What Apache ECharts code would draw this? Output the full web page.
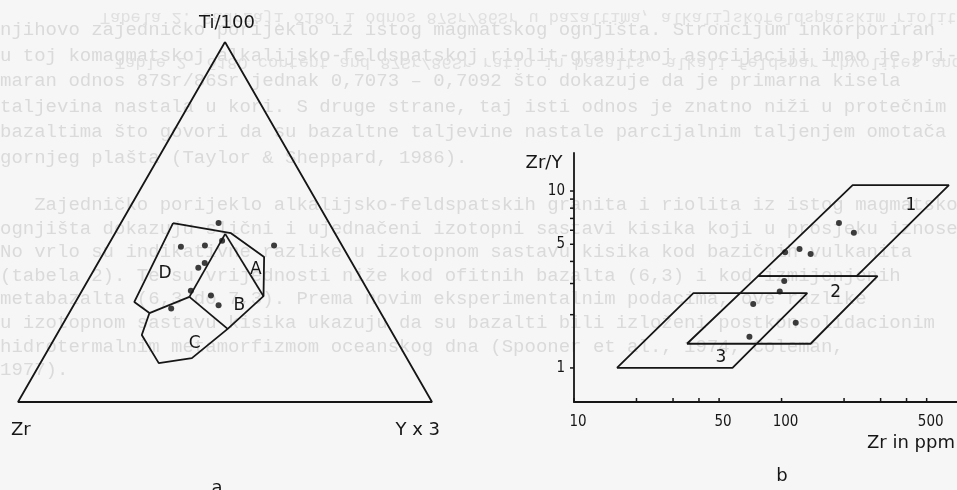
<!DOCTYPE html>
<html>
<head>
<meta charset="utf-8">
<script src="https://cdn.jsdelivr.net/npm/echarts@6/dist/echarts.min.js"></script>
<style>
	html, body { margin: 0; padding: 0; background: #f6f6f6; }
	#main { width: 957px; height: 490px; }
</style>
</head>
<body>
<div id="main"></div>
<script>
// a: Ti/100 - Zr - Y*3, sastav u % [Ti, Zr, Y]
var terCorners = [[100, 0, 0], [0, 100, 0], [0, 0, 100]];
var fieldOutline = [[49.7, 37.7, 12.6], [46.9, 25.1, 28.0], [40.3, 20.4, 39.3], [29.4, 26.0, 44.6], [20.3, 39.2, 40.5],
	[12.2, 51.9, 35.9], [10.8, 60.6, 28.6], [18.6, 60.8, 20.6], [24.7, 55.9, 19.4], [27.8, 58.0, 14.2]];
var junctionTop = [46.7, 26.6, 26.7];
var junctionMid = [29.2, 44.0, 26.8];
var dividers = [
	[junctionTop, junctionMid],
	[junctionTop, [29.4, 26.0, 44.6]],
	[junctionMid, [24.7, 55.9, 19.4]],
	[junctionMid, [20.3, 39.2, 40.5]]
];
var terSamples = [[49.7, 26.7, 23.6], [43.1, 39.1, 17.8], [43.5, 33.1, 23.4], [44.8, 28.3, 26.9], [43.5, 16.4, 40.1],
	[38.6, 35.6, 25.8], [37.3, 37.8, 24.9], [30.9, 42.8, 26.3], [26.0, 50.0, 24.0], [29.6, 38.6, 31.8], [26.9, 38.1, 35.0]];
var fieldNames = ['D', 'A', 'B', 'C'];
var fieldNamePos = [[35.8, 46.6, 17.6], [36.9, 24.1, 39.0], [26.9, 33.1, 40.0], [16.3, 49.2, 34.5]];

// b: Zr/Y - Zr (ppm)
var field1 = [[77, 3.3], [220, 10.8], [640, 10.8], [230, 3.3]];
var field2 = [[35, 1.37], [77, 3.3], [290, 3.3], [138, 1.37]];
var field3 = [[16.1, 1.0], [37.6, 2.65], [133, 2.65], [58, 1.0]];
var fieldNo = ['1', '2', '3'];
var fieldNoPos = [[420, 8.3], [182, 2.65], [51, 1.14]];
var zrPpm = [189, 223, 104, 122, 138, 103, 98, 73, 117, 70];
var zrY = [6.6, 5.8, 4.5, 4.7, 4.4, 3.1, 2.7, 2.3, 1.8, 1.5];
var xTicks = [10, 20, 30, 40, 50, 100, 200, 300, 400, 500];
var xLabels = [10, 50, 100, 500];
var yTicks = [1, 2, 3, 4, 5, 6, 7, 8, 9, 10];
var yLabels = [1, 5, 10];

var bgLines = [
	'njihovo zajedničko porijeklo iz istog magmatskog ognjišta. Stroncijum inkorporiran',
	'u toj komagmatskoj alkalijsko-feldspatskoj riolit-granitnoj asocijaciji imao je pri-',
	'maran odnos 87Sr/86Sr jednak 0,7073 – 0,7092 što dokazuje da je primarna kisela',
	'taljevina nastala u kori. S druge strane, taj isti odnos je znatno niži u protečnim',
	'bazaltima što govori da su bazaltne taljevine nastale parcijalnim taljenjem omotača',
	'gornjeg plašta (Taylor & Sheppard, 1986).'
];
var bgLines2 = [
	'   Zajedničko porijeklo alkalijsko-feldspatskih granita i riolita iz istog magmatskog',
	'ognjišta dokazuju slični i ujednačeni izotopni sastavi kisika koji u prosjeku iznose 9,',
	'No vrlo su indikativne razlike u izotopnom sastavu kisika kod bazičnih vulkanita',
	'(tabela 2). Te su vrijednosti niže kod ofitnih bazalta (6,3) i kod izmijenjenih',
	'metabazalta (6,3 do 7,3). Prema novim eksperimentalnim podacima, ove razlike',
	'u izotopnom sastavu kisika ukazuju da su bazalti bili izloženi postkonsolidacionim',
	'hidrotermalnim metamorfizmom oceanskog dna (Spooner et al., 1974, Coleman,',
	'1977).'
];

var LINE = '#161616';
var X_MIN = 10, X_MAX = 700, Y_MIN = 0.642, Y_MAX = 16.4;

function tern(p) {
	var ti = p[0], y = p[2];
	return [y + ti / 2, ti * Math.sqrt(3) / 2];
}

function closed(arr, fn) {
	var out = arr.map(fn);
	out.push(out[0]);
	return out;
}

function ident(p) { return p; }

function lineSeries(data, gi) {
	return {
		type: 'line', xAxisIndex: gi, yAxisIndex: gi, data: data,
		symbol: 'none', silent: true, animation: false,
		lineStyle: { color: LINE, width: 1.8 }
	};
}

var series = [];
series.push(lineSeries(closed(terCorners, tern), 0));
series.push(lineSeries(closed(fieldOutline, tern), 0));
for (var i = 0; i < dividers.length; i++) {
	series.push(lineSeries(dividers[i].map(tern), 0));
}
series.push({
	type: 'scatter', xAxisIndex: 0, yAxisIndex: 0, symbolSize: 6, animation: false,
	itemStyle: { color: '#0e0e0e' },
	data: terSamples.map(tern)
});
series.push({
	type: 'custom', xAxisIndex: 0, yAxisIndex: 0, animation: false,
	data: fieldNamePos.map(function (p, k) { return tern(p).concat([k]); }),
	renderItem: function (params, api) {
		var c = api.coord([api.value(0), api.value(1)]);
		return {
			type: 'text', x: c[0], y: c[1],
			style: { text: fieldNames[api.value(2)], fill: LINE, font: '17px "DejaVu Sans"', align: 'center', verticalAlign: 'middle' }
		};
	}
});

// b
series.push(lineSeries(closed(field1, ident), 1));
series.push(lineSeries(closed(field2, ident), 1));
series.push(lineSeries(closed(field3, ident), 1));
series.push({
	type: 'scatter', xAxisIndex: 1, yAxisIndex: 1, symbolSize: 6, animation: false,
	itemStyle: { color: '#0e0e0e' },
	data: zrPpm.map(function (v, k) { return [v, zrY[k]]; })
});
series.push({
	type: 'custom', xAxisIndex: 1, yAxisIndex: 1, animation: false,
	data: fieldNoPos.map(function (p, k) { return p.concat([k]); }),
	renderItem: function (params, api) {
		var c = api.coord([api.value(0), api.value(1)]);
		return {
			type: 'text', x: c[0], y: c[1],
			style: { text: fieldNo[api.value(2)], fill: LINE, font: '17px "DejaVu Sans"', align: 'center', verticalAlign: 'middle' }
		};
	}
});
// crtice i oznake na osima
series.push({
	type: 'custom', xAxisIndex: 1, yAxisIndex: 1, animation: false, silent: true,
	data: xTicks.map(function (v) { return [v, Y_MIN]; }),
	renderItem: function (params, api) {
		var c = api.coord([api.value(0), api.value(1)]);
		return { type: 'line', shape: { x1: c[0], y1: c[1], x2: c[0], y2: c[1] - 4 }, style: { stroke: LINE, lineWidth: 1.5 } };
	}
});
series.push({
	type: 'custom', xAxisIndex: 1, yAxisIndex: 1, animation: false, silent: true,
	data: yTicks.map(function (v) { return [X_MIN, v]; }),
	renderItem: function (params, api) {
		var c = api.coord([api.value(0), api.value(1)]);
		return { type: 'line', shape: { x1: c[0], y1: c[1], x2: c[0] - 4, y2: c[1] }, style: { stroke: LINE, lineWidth: 1.5 } };
	}
});
series.push({
	type: 'custom', xAxisIndex: 1, yAxisIndex: 1, animation: false, silent: true,
	data: xLabels.map(function (v) { return [v, Y_MIN]; }),
	renderItem: function (params, api) {
		var c = api.coord([api.value(0), api.value(1)]);
		return {
			type: 'text', x: c[0] + 4, y: c[1] + 20,
			style: { text: String(api.value(0)), fill: LINE, font: '15px "DejaVu Sans Condensed"', align: 'center', verticalAlign: 'middle' }
		};
	}
});
series.push({
	type: 'custom', xAxisIndex: 1, yAxisIndex: 1, animation: false, silent: true,
	data: yLabels.map(function (v) { return [X_MIN, v]; }),
	renderItem: function (params, api) {
		var c = api.coord([api.value(0), api.value(1)]);
		return {
			type: 'text', x: c[0] - 9, y: c[1],
			style: { text: String(api.value(1)), fill: LINE, font: '15px "DejaVu Sans Condensed"', align: 'right', verticalAlign: 'middle' }
		};
	}
});

// tekst s druge strane papira
var bgFill = '#dadada';
var bg = [];
for (var j = 0; j < bgLines.length; j++) {
	bg.push({ type: 'text', x: 0, y: 30 + j * 25.5, z: -10, silent: true,
		style: { text: bgLines[j], fill: bgFill, font: '19px "Liberation Mono"', verticalAlign: 'middle' } });
}
for (var j = 0; j < bgLines2.length; j++) {
	bg.push({ type: 'text', x: 0, y: 205 + j * 23.6, z: -10, silent: true,
		style: { text: bgLines2[j], fill: bgFill, font: '19px "Liberation Mono"', verticalAlign: 'middle' } });
}
bg.push({ type: 'text', x: 100, y: 17, z: -10, scaleY: -1, silent: true,
	style: { text: 'Tabela 2. Sadržaji δ18O i odnos 87Sr/86Sr u bazaltima, alkalijskofeldspatskim riolitima', fill: '#e0e0e0', font: '17px "Liberation Mono"', verticalAlign: 'middle' } });
bg.push({ type: 'text', x: 115, y: 62, z: -10, scaleY: -1, silent: true,
	style: { text: 'Table 2. δ18O content and 87Sr/86Sr ratio in basalts, alkali feldspar rhyolites and granites', fill: '#e0e0e0', font: '17px "Liberation Mono"', verticalAlign: 'middle' } });

var labelFont = '18px "DejaVu Sans"';
var titles = [
	{ type: 'text', x: 227, y: 23, style: { text: 'Ti/100', fill: LINE, font: labelFont, align: 'center', verticalAlign: 'middle' } },
	{ type: 'text', x: 11, y: 430, style: { text: 'Zr', fill: LINE, font: labelFont, verticalAlign: 'middle' } },
	{ type: 'text', x: 440, y: 430, style: { text: 'Y x 3', fill: LINE, font: labelFont, align: 'right', verticalAlign: 'middle' } },
	{ type: 'text', x: 217, y: 488, style: { text: 'a', fill: LINE, font: labelFont, align: 'center', verticalAlign: 'middle' } },
	{ type: 'text', x: 544, y: 163, style: { text: 'Zr/Y', fill: LINE, font: labelFont, align: 'center', verticalAlign: 'middle' } },
	{ type: 'text', x: 955, y: 443, style: { text: 'Zr in ppm', fill: LINE, font: labelFont, align: 'right', verticalAlign: 'middle' } },
	{ type: 'text', x: 782, y: 476, style: { text: 'b', fill: LINE, font: labelFont, align: 'center', verticalAlign: 'middle' } }
];

var myChart = echarts.init(document.getElementById('main'));
option = {
	backgroundColor: '#f6f6f6',
	animation: false,
	graphic: bg.concat(titles),
	grid: [
		{ left: 18, top: 42, width: 414, height: 360 },
		{ left: 574, top: 153, width: 383, height: 249 }
	],
	xAxis: [
		{ type: 'value', gridIndex: 0, min: 0, max: 100, show: false },
		{ type: 'log', gridIndex: 1, logBase: 10, min: X_MIN, max: X_MAX,
			axisLine: { show: true, lineStyle: { color: LINE, width: 1.8 } },
			axisTick: { show: false }, axisLabel: { show: false }, splitLine: { show: false } }
	],
	yAxis: [
		{ type: 'value', gridIndex: 0, min: 0, max: 86.6, show: false },
		{ type: 'log', gridIndex: 1, logBase: 10, min: Y_MIN, max: Y_MAX,
			axisLine: { show: true, lineStyle: { color: LINE, width: 1.8 } },
			axisTick: { show: false }, axisLabel: { show: false }, splitLine: { show: false } }
	],
	series: series
};
myChart.setOption(option);
</script>
</body>
</html>
